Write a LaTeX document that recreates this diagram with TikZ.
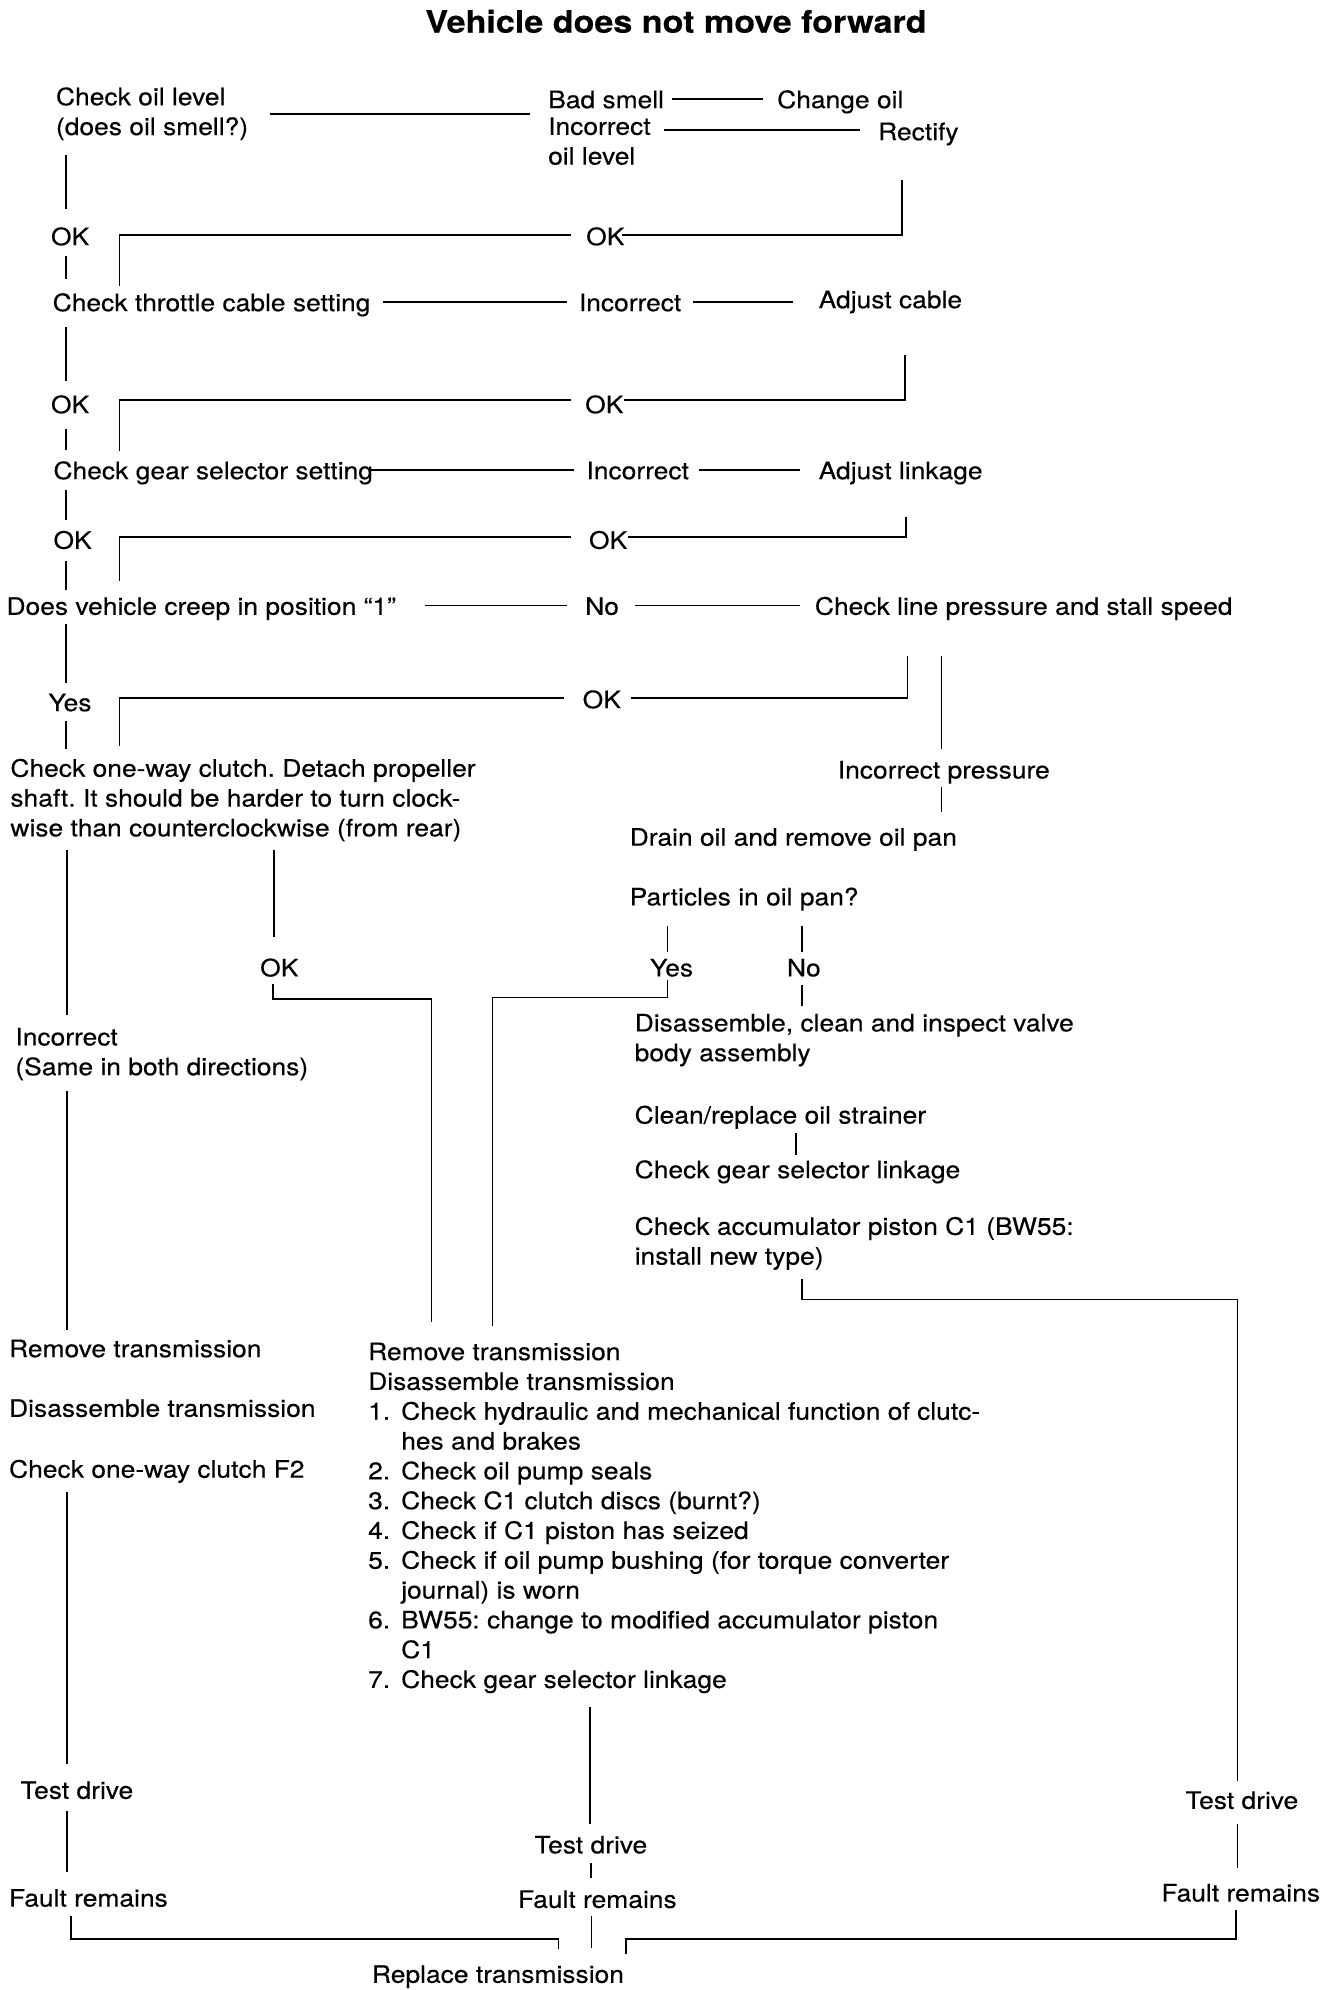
\documentclass[tikz,border=0pt]{standalone}
\usepackage{fontspec}
\setmainfont{TeX Gyre Heros}[FakeStretch=1.1,FakeBold=0.3]
\frenchspacing
\newcommand\bodyfont{\fontsize{24}{29.8}\selectfont}
\newcommand\ttlfont{\fontsize{31}{36}\selectfont\bfseries}
\newlength\numw
\setlength\numw{33pt}
\newcommand\itm[1]{\makebox[\numw][l]{#1}}
\newcommand\hgap{\hspace*{\numw}}
\begin{document}
\begin{tikzpicture}[x=1pt,y=-1pt,
  txt/.style={inner sep=0pt,anchor=north west,align=left,font=\bodyfont,yshift=18.9pt,execute at begin node=\strut},
  ttl/.style={inner sep=0pt,anchor=base,font=\ttlfont},
  ln/.style={line width=1.7pt}]
\path[use as bounding box] (0,0) rectangle (1344,1990);

% ---------- title ----------
\node[ttl] (title) at (676,32.7) {Vehicle does not move forward};

% ---------- texts ----------
\node[txt] (chkoil) at (55.8,106) {Check oil level\\(does oil smell?)};
\node[txt] (badsmell) at (548,106) {Bad smell};
\node[txt] (changeoil) at (777,106) {Change oil};
\node[txt] (incoil) at (548,136) {Incorrect\\oil level};
\node[txt] (rectify) at (878,138) {Rectify};
\node[txt] (okA) at (50.8,243) {OK};
\node[txt] (okAr) at (586,243) {OK};
\node[txt] (throttle) at (52.5,309) {Check throttle cable setting};
\node[txt] (incB) at (578.7,309) {Incorrect};
\node[txt] (adjcable) at (818.5,306) {Adjust cable};
\node[txt] (okB) at (50.8,411) {OK};
\node[txt] (okBr) at (585,411) {OK};
\node[txt] (gear) at (53.3,477) {Check gear selector setting};
\node[txt] (incC) at (586.3,477) {Incorrect};
\node[txt] (adjlink) at (818.5,477) {Adjust linkage};
\node[txt] (okC) at (53.3,546.6) {OK};
\node[txt] (okCr) at (588.8,546.6) {OK};
\node[txt] (creep) at (6.3,612.6) {Does vehicle creep in position ``1''};
\node[txt] (noA) at (585,612.6) {No};
\node[txt] (chkline) at (814.7,612.6) {Check line pressure and stall speed};
\node[txt] (yesA) at (48.2,709) {Yes};
\node[txt] (okDr) at (582.5,706) {OK};
\node[txt] (oneway) at (10.2,777.5) {Check one-way clutch. Detach propeller\\shaft. It should be harder to turn clock-\\wise than counterclockwise (from rear)};
\node[txt] (incpress) at (837.6,776.3) {Incorrect pressure};
\node[txt] (drain) at (629.5,843.5) {Drain oil and remove oil pan};
\node[txt] (particles) at (629.5,903.2) {Particles in oil pan?};
\node[txt] (okE) at (260,974.2) {OK};
\node[txt] (yesB) at (649.8,974.2) {Yes};
\node[txt] (noB) at (786.8,974.2) {No};
\node[txt] (incsame) at (15.2,1046.6) {Incorrect\\(Same in both directions)};
\node[txt] (disvalve) at (634.5,1032.6) {Disassemble, clean and inspect valve\\body assembly};
\node[txt] (strainer) at (634.5,1121.4) {Clean/replace oil strainer};
\node[txt] (gearlink) at (634.5,1176) {Check gear selector linkage};
\node[txt] (accum) at (634.5,1235.6) {Check accumulator piston C1 (BW55:\\install new type)};
\node[txt] (remL) at (8.9,1355) {Remove transmission};
\node[txt] (disL) at (8.9,1414.6) {Disassemble transmission};
\node[txt] (fTwo) at (8.9,1475.5) {Check one-way clutch F2};
\node[txt] (midlist) at (368,1361.3) {Remove transmission\\
Disassemble transmission\\
\itm{1.}Check hydraulic and mechanical function of clutc-\\
\hgap hes and brakes\\
\itm{2.}Check oil pump seals\\
\itm{3.}Check C1 clutch discs (burnt?)\\
\itm{4.}Check if C1 piston has seized\\
\itm{5.}Check if oil pump bushing (for torque converter\\
\hgap journal) is worn\\
\itm{6.}BW55: change to modified accumulator piston\\
\hgap C1\\
\itm{7.}Check gear selector linkage};
\node[txt] (tdL) at (20.3,1796.6) {Test drive};
\node[txt] (frL) at (8.9,1904.4) {Fault remains};
\node[txt] (tdM) at (534.3,1851.2) {Test drive};
\node[txt] (frM) at (517.8,1905.7) {Fault remains};
\node[txt] (tdR) at (1185.3,1806.7) {Test drive};
\node[txt] (frR) at (1161.2,1899.3) {Fault remains};
\node[txt] (replace) at (371.8,1980.6) {Replace transmission};

% ---------- connector end points ----------
\coordinate (a1) at (270,114);   \coordinate (a2) at (530,114);
\coordinate (b1) at (672,99);    \coordinate (b2) at (763,99);
\coordinate (c1) at (664,130); \coordinate (c2) at (860.4,130);
\coordinate (r1) at (902.3,180); \coordinate (r2) at (622,235);
\coordinate (r3) at (571,235);   \coordinate (r4) at (119.5,285.5);
\coordinate (l1) at (66,155);    \coordinate (l2) at (66,209);
\coordinate (l3) at (66,256);    \coordinate (l4) at (66,279);
\coordinate (t1) at (383,302);   \coordinate (t2) at (567,302);
\coordinate (t3) at (693,302);   \coordinate (t4) at (793,302);
\coordinate (l5) at (66,327);    \coordinate (l6) at (66,381);
\coordinate (l7) at (66,429);    \coordinate (l8) at (66,450);
\coordinate (s1) at (904.8,355); \coordinate (s2) at (624.4,400);
\coordinate (s3) at (571,400);   \coordinate (s4) at (119.5,450.5);
\coordinate (g1) at (370.6,470); \coordinate (g2) at (573.6,470);
\coordinate (g3) at (699,470);   \coordinate (g4) at (799.5,470);
\coordinate (l9) at (66,490);    \coordinate (l10) at (66,520);
\coordinate (l11) at (66,561);   \coordinate (l12) at (66,590);
\coordinate (u1) at (906,516.5); \coordinate (u2) at (628,537);
\coordinate (u3) at (571,537);   \coordinate (u4) at (119.5,581);
\coordinate (d1) at (425,605.5); \coordinate (d2) at (567,605.5);
\coordinate (d3) at (634.5,605.5); \coordinate (d4) at (799.5,605.5);
\coordinate (l13) at (66,624);   \coordinate (l14) at (66,683);
\coordinate (l15) at (66,721);   \coordinate (l16) at (66,749);
\coordinate (w1) at (907.4,656); \coordinate (w2) at (630.7,698);
\coordinate (w3) at (563.5,698); \coordinate (w4) at (119.5,746);
\coordinate (p1) at (941.6,656); \coordinate (p2) at (941.6,748.7);
\coordinate (p3) at (941.6,786.8); \coordinate (p4) at (941.6,812.2);
\coordinate (o1) at (274,850);   \coordinate (o2) at (274,936.6);
\coordinate (o3) at (273,983.5); \coordinate (o4) at (431.5,998.8);
\coordinate (o5) at (431.5,1322.4);
\coordinate (y1) at (667.5,979.7); \coordinate (y2) at (492.4,997.5);
\coordinate (y3) at (492.4,1326.2);
\coordinate (q1) at (667.5,926.4); \coordinate (q2) at (667.5,951.8);
\coordinate (q3) at (802,926.4);   \coordinate (q4) at (802,951.8);
\coordinate (q5) at (802,984.8);   \coordinate (q6) at (802,1006.4);
\coordinate (k1) at (795.7,1133.3); \coordinate (k2) at (795.7,1154.9);
\coordinate (m1) at (802,1279.2);  \coordinate (m2) at (1237.4,1299.6);
\coordinate (m3) at (1237.4,1780.5);
\coordinate (m4) at (1237.4,1823.7); \coordinate (m5) at (1237.4,1868);
\coordinate (f1) at (1236,1910);   \coordinate (f2) at (625.7,1939.2);
\coordinate (f3) at (625.7,1954.4);
\coordinate (h1) at (71,1916.3);   \coordinate (h2) at (558.4,1939.2);
\coordinate (h3) at (558.4,1949.3);
\coordinate (j1) at (591.4,1916.3); \coordinate (j2) at (591.4,1948);
\coordinate (j3) at (590.1,1707);  \coordinate (j4) at (590.1,1823.7);
\coordinate (j5) at (591,1863);    \coordinate (j6) at (591,1878.2);
\coordinate (e1) at (67.3,850);    \coordinate (e2) at (67.3,1015);
\coordinate (e3) at (67.3,1091);   \coordinate (e4) at (67.3,1330);
\coordinate (e5) at (67.3,1492);   \coordinate (e6) at (67.3,1764);
\coordinate (e7) at (67.3,1811);   \coordinate (e8) at (67.3,1872);

% ---------- connectors ----------
\draw[ln] (a1) -- (a2);
\draw[ln] (b1) -- (b2);
\draw[ln] (c1) -- (c2);
\draw[ln] (r1) |- (r2);
\draw[ln] (r3) -| (r4);
\draw[ln] (l1) -- (l2);
\draw[ln] (l3) -- (l4);
\draw[ln] (t1) -- (t2);
\draw[ln] (t3) -- (t4);
\draw[ln] (l5) -- (l6);
\draw[ln] (l7) -- (l8);
\draw[ln] (s1) |- (s2);
\draw[ln] (s3) -| (s4);
\draw[ln] (g1) -- (g2);
\draw[ln] (g3) -- (g4);
\draw[ln] (l9) -- (l10);
\draw[ln] (l11) -- (l12);
\draw[ln] (u1) |- (u2);
\draw[ln] (u3) -| (u4);
\draw[ln] (d1) -- (d2);
\draw[ln] (d3) -- (d4);
\draw[ln] (l13) -- (l14);
\draw[ln] (l15) -- (l16);
\draw[ln] (w1) |- (w2);
\draw[ln] (w3) -| (w4);
\draw[ln] (p1) -- (p2);
\draw[ln] (p3) -- (p4);
\draw[ln] (o1) -- (o2);
\draw[ln] (o3) |- (o4) -- (o5);
\draw[ln] (y1) |- (y2) -- (y3);
\draw[ln] (q1) -- (q2);
\draw[ln] (q3) -- (q4);
\draw[ln] (q5) -- (q6);
\draw[ln] (k1) -- (k2);
\draw[ln] (m1) |- (m2) -- (m3);
\draw[ln] (m4) -- (m5);
\draw[ln] (f1) |- (f2) -- (f3);
\draw[ln] (h1) |- (h2) -- (h3);
\draw[ln] (j1) -- (j2);
\draw[ln] (j3) -- (j4);
\draw[ln] (j5) -- (j6);
\draw[ln] (e1) -- (e2);
\draw[ln] (e3) -- (e4);
\draw[ln] (e5) -- (e6);
\draw[ln] (e7) -- (e8);
\end{tikzpicture}
\end{document}
